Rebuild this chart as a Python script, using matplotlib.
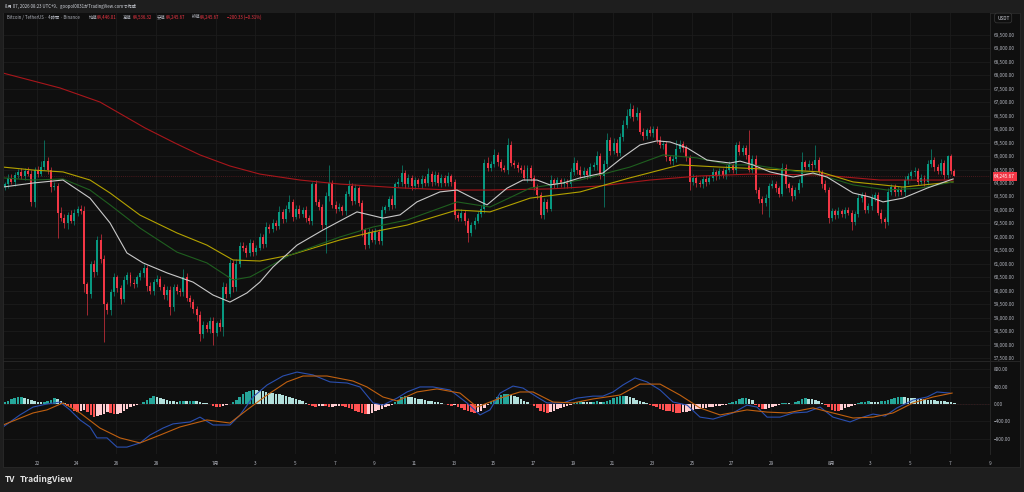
import matplotlib
matplotlib.use('Agg')
import matplotlib.pyplot as plt
import numpy as np
from matplotlib.patches import Rectangle

plt.rcParams['font.family'] = ['Noto Sans CJK JP', 'DejaVu Sans']
plt.rcParams['axes.unicode_minus'] = True

# ---- data (4h candles, BTC/USDT) ----
first_open = 63600
last_open = 64446.01
last_day = 46.21          # days after Jun 22 00:00 of the last candle

closes = [
    63850, 63950, 64200, 64050, 64300,
    64400, 64250, 64450, 64350,
    63300, 64500, 64350, 64600,
    64800, 64500, 63850, 63900,
    62900, 62700, 62500, 62800, 62600, 62900, 63050,
    62950, 60250, 59900,
    61000, 60700, 61900, 61200,
    59500, 59300, 59950, 60500, 60100, 59700, 60400, 60600, 60300,
    60250, 60500, 60650, 60850, 60200, 60000, 60350, 60450, 60150, 59850, 60050, 59400, 60150, 60000, 59950,
    60500, 59750, 59600, 59350, 59100, 58400, 58750, 58600, 58900, 58450, 58800, 58650,
    60150, 59900, 61050, 60150, 61000, 61650,
    61600, 61400, 61780, 61450, 61600, 62000, 61750, 62370, 62300, 62520, 62400, 62930, 62650, 63050, 63300,
    62750, 63050, 62850, 63000, 62700, 62600,
    63950, 63300, 63100, 62450, 63500, 64000, 63200, 63050, 63100, 62950, 63600, 63900, 63350, 63800, 63250,
    62250, 61700, 62200, 61900, 62200, 61850,
    63000, 63100, 63400, 63200, 63950, 64050, 64370, 63950, 64200, 63900, 64100, 63950, 64150, 64000, 64350,
    64050, 64300, 64000, 64200, 64000, 64250, 64050,
    62800, 62700, 62900, 62600, 62150, 62450, 62600, 62850, 63050,
    64750, 64550, 64700, 65050, 64780, 64550, 64500, 65400, 64750, 64650, 64550, 64500, 64200, 64550, 64200,
    63850, 63550, 62800, 63300, 63050, 64100, 63950, 64100, 63950, 64050, 63950,
    64400, 64750, 64500, 64300, 64450, 64300, 64600, 64650, 65000, 64250, 64700, 65600, 65200, 65500, 65100,
    65700, 66150, 66500, 66750, 66450, 66600, 65900, 65750, 65950, 65850, 66000, 65600, 65400, 65450, 64950,
    64800, 64900, 65250, 65450, 65300, 64950,
    64050, 64200, 64000, 63950, 64150, 64050, 64200, 64400, 64250, 64450, 64300, 64500, 64650, 64500, 65400,
    65150, 65300, 65050, 64500, 64900,
    63750, 63400, 63250, 63450, 63900, 63950, 63800, 63600, 64550, 63950, 63800, 63500, 63750, 64000, 64770,
    64600, 64700, 64650, 64850, 64400, 63950, 63750, 62700, 62950, 62800, 62950, 62850, 63000, 62900,
    62550, 62850, 63450, 63550, 63000, 63150, 63450, 63550, 62900, 62650, 62550, 63650, 63850, 63650, 63750,
    63650, 64100, 64250, 64400, 64450, 64050, 64200, 64050, 64700, 64850, 64600, 64450, 64750, 64300, 65000,
    64450, 64245.67,
]

up_wick = [
    100, 80, 150, 120, 100,
    120, 150, 100, 130,
    150, 100, 120, 200,
    800, 150, 100, 150,
    100, 200, 150, 120, 200, 150, 100,
    150, 200, 100,
    100, 150, 120, 200,
    150, 100, 120, 150, 100, 120, 150, 100, 120,
    150, 100, 120, 150, 100, 120, 100, 150, 120, 100, 130, 150, 100, 120, 100,
    300, 150, 100, 120, 100, 150, 120, 100, 150, 120, 100, 150,
    200, 150, 150, 100, 200, 150,
    150, 100, 150, 100, 120, 150, 100, 200, 100, 150, 100, 200, 120, 150, 250,
    100, 150, 120, 100, 150, 100,
    100, 150, 100, 120, 150, 650, 100, 120, 150, 100, 120, 200, 100, 150, 100,
    120, 100, 150, 100, 120, 100,
    150, 100, 120, 150, 100, 150, 300, 100, 150, 100, 120, 100, 150, 100, 200,
    100, 150, 100, 120, 100, 150, 100,
    100, 120, 150, 100, 120, 100, 150, 100, 120,
    150, 200, 100, 200, 100, 120, 100, 250, 150, 100, 120, 100, 150, 100, 120,
    100, 100, 120, 150, 100, 200, 100, 120, 100, 150, 100,
    150, 200, 100, 120, 150, 100, 150, 120, 200, 100, 150, 250, 100, 150, 120,
    150, 200, 250, 200, 150, 200, 120, 150, 100, 150, 120, 100, 150, 100, 120,
    100, 150, 350, 150, 120, 100,
    100, 150, 100, 120, 100, 150, 100, 150, 100, 120, 100, 150, 150, 100, 120,
    150, 100, 120, 900, 150,
    150, 100, 120, 150, 100, 150, 120, 100, 200, 150, 100, 120, 100, 150, 380,
    100, 150, 100, 550, 120, 100, 150, 100, 120, 100, 150, 100, 120, 100,
    100, 120, 150, 100, 120, 100, 150, 120, 100, 120, 100, 150, 120, 100, 150,
    100, 150, 120, 100, 150, 100, 120, 100, 150, 400, 120, 100, 150, 100, 50,
    86, 90.31,
]

down_wick = [
    150, 100, 120, 100, 150,
    100, 120, 150, 100,
    150, 200, 120, 100,
    100, 150, 200, 120,
    950, 120, 150, 200, 100, 150, 120,
    100, 300, 800,
    150, 200, 120, 150,
    1400, 150, 200, 120, 150, 200, 120, 150, 100,
    150, 120, 100, 150, 200, 120, 150, 100, 120, 150, 200, 300, 150, 120, 150,
    150, 120, 200, 150, 200, 250, 150, 120, 150, 450, 120, 150,
    300, 150, 120, 200, 150, 100,
    120, 150, 100, 150, 120, 100, 150, 120, 150, 100, 150, 120, 150, 100, 120,
    150, 100, 150, 120, 150, 120,
    150, 120, 100, 150, 1050, 150, 120, 150, 100, 150, 120, 100, 150, 120, 100,
    200, 150, 120, 100, 150, 120,
    150, 120, 100, 150, 120, 100, 150, 120, 100, 150, 120, 100, 150, 120, 100,
    150, 120, 100, 150, 120, 100, 150,
    150, 120, 100, 150, 350, 120, 150, 100, 120,
    150, 100, 120, 100, 150, 120, 100, 150, 120, 100, 150, 120, 100, 150, 120,
    100, 150, 100, 150, 120, 100, 150, 120, 100, 150, 120,
    120, 100, 150, 120, 100, 150, 120, 100, 150, 120, 1150, 100, 150, 120, 100,
    100, 150, 120, 100, 150, 120, 100, 150, 120, 100, 150, 120, 100, 150, 120,
    100, 150, 120, 100, 150, 120,
    300, 120, 150, 100, 120, 150, 100, 120, 150, 100, 120, 150, 100, 120, 150,
    100, 120, 150, 100, 120,
    120, 150, 400, 120, 700, 100, 150, 120, 100, 150, 120, 150, 100, 120, 150,
    100, 120, 150, 100, 120, 150, 100, 180, 120, 150, 100, 120, 150, 100,
    290, 120, 100, 150, 120, 100, 150, 120, 100, 120, 200, 120, 100, 150, 120,
    100, 150, 120, 100, 150, 120, 100, 150, 120, 100, 150, 120, 100, 150, 120,
    100, 0,
]

macd_hist = [
    20, 50, 80, 110, 130, 150, 150,
    140, 120, 90, 60,
    50, 40, 40,
    70, 100, 130,
    110, 70, 30,
    -50, -100, -150, -180, -160, -140, -190, -260, -300, -280, -250,
    -220, -180, -200, -240, -230, -200, -150, -110, -80, -50, -20, -5,
    40, 90, 140, 175, 160, 140, 120, 100, 80, 60, 50,
    60, 70, 60, 70, 80, 60, 40, 30, 20, 10,
    -40, -60, -70, -50, -30, -10,
    40, 100, 160, 220, 270, 300, 320,
    310, 300, 290, 280, 260, 250, 240, 220, 200, 180, 160, 140, 110, 90, 60, 30,
    -20, -40, -60, -50, -40, -50, -70, -60, -50, -40, -50, -70, -90, -120, -150,
    -180, -210, -230, -220, -200, -170, -140, -110, -80, -50, -20,
    40, 100, 150, 175, 170, 150, 140, 120, 110, 90, 80, 70, 50, 40, 30,
    -10, -30, -40, -30, -60, -100, -140, -170, -190, -200, -180, -150, -100,
    -30, 40, 100, 160, 200, 225, 230, 215, 190, 160, 120, 80, 40, 10,
    -40, -100, -150, -190, -200, -180, -150, -120, -90, -60, -40, -20,
    30, 50, 60, 55, 50, 45, 55, 60, 50,
    50, 70, 100, 130, 160, 180, 190, 185, 160, 130, 100, 70, 40, 15,
    -20, -50, -80, -110, -130, -150, -170, -185, -195, -200, -190, -180,
    -160, -140, -120, -110, -100, -90, -70, -60, -50, -40, -30, -15,
    20, 50, 80, 110, 130, 140, 120, 90,
    -30, -80, -115, -110, -90, -70, -40, -20,
    15, 25, 20, 10, 40, 80, 110, 130, 125, 110, 90, 60, 30,
    -30, -80, -130, -150, -150, -130, -100, -70, -40, -20,
    20, 40, 55, 60, 50, 45, 40,
    60, 80, 100, 120, 135, 150, 155, 150, 145, 140, 130, 125, 120, 110, 100,
    95, 90, 80, 70, 60, 50, 40, 20,
]

# moving averages, read at sample points (days after Jun 22)
ema200_days = [-1.7, -0.35, 1.16, 3.17, 5.44, 6.95, 8.21, 9.72, 11.23, 13.25, 15.26,
               18.29, 20.81, 22.82, 25.84, 28.36, 30.88, 33.40, 35.92, 39.45, 42.47, 46.15]
ema200 = [68070, 67810, 67520, 67000, 66040, 65480, 65040, 64630, 64330, 64110, 63960,
          63820, 63740, 63740, 63780, 63890, 64110, 64260, 64330, 64300, 64110, 64110]

ema100_days = [-1.71, -0.20, 1.31, 2.67, 3.68, 5.19, 7.05, 8.56, 9.87, 11.23, 12.75, 15.26, 16.93,
               18.64, 21.16, 22.82, 24.84, 27.36, 29.87, 32.39, 34.41, 37.78, 39.45, 41.11, 43.63, 46.15]
ema100 = [64590, 64480, 64410, 64110, 63630, 62810, 62150, 61700, 61150, 61110, 61330, 61890, 62190,
          62440, 63000, 62930, 63440, 63670, 64190, 64670, 64590, 64480, 64410, 64040, 63850, 64040]

ema50_days = [-1.71, -0.20, 1.31, 2.67, 3.68, 5.19, 7.05, 8.56, 9.87, 10.73, 12.75, 15.26, 16.93, 18.64,
              21.16, 22.82, 24.84, 27.36, 29.87, 31.54, 33.25, 34.91, 36.07, 37.78, 39.45, 41.11,
              42.82, 44.48, 46.15]
ema50 = [64190, 64110, 64150, 63740, 63190, 62330, 61440, 61040, 60410, 60520, 61330, 62000, 62370, 62630,
         63300, 63110, 63810, 64110, 64590, 65040, 64930, 64670, 64670, 64480, 64300, 63930,
         63740, 63810, 64040]

ema20_days = [-1.71, -0.20, 1.31, 2.67, 3.68, 4.53, 5.34, 6.55, 7.86, 8.87, 9.72, 10.58, 11.23, 11.89,
              13.10, 14.41, 16.12, 17.43, 18.29, 19.14, 20.30, 21.16, 21.96, 22.67, 23.68, 24.48,
              25.19, 25.84, 26.50, 27.36, 28.51, 29.52, 30.38, 31.23, 31.89, 32.75, 33.75, 34.91,
              35.42, 36.07, 36.93, 38.09, 39.09, 39.80, 41.11, 41.96, 42.62, 43.63, 44.84, 46.15]
ema20 = [63850, 64000, 64110, 63440, 62520, 61410, 61040, 60670, 60330, 59850, 59590, 59930, 60330, 60890,
         61700, 62260, 62930, 62700, 62820, 63300, 63670, 63740, 63440, 63190, 63810, 64110,
         64110, 63930, 64000, 64190, 64370, 64960, 65410, 65560, 65520, 65300, 64850, 64740,
         64810, 64670, 64410, 64220, 64370, 64220, 63630, 63480, 63300, 63440, 63810, 64150]

macd_days = [-1.71, -0.86, -0.20, 0.50, 1.16, 1.66, 2.17, 2.67, 3.02, 3.53, 4.03, 4.53, 5.19, 5.69,
             6.35, 6.85, 7.71, 8.21, 8.87, 9.72, 10.23, 10.88, 11.59, 12.39, 13.10, 13.90, 14.76,
             15.62, 16.27, 16.93, 17.43, 18.14, 18.64, 19.29, 19.95, 20.81, 21.66, 22.32, 22.82,
             23.33, 23.98, 24.48, 25.19, 25.69, 26.50, 27.20, 28.01, 28.51, 29.02, 29.52, 30.13,
             30.73, 31.39, 32.04, 32.75, 33.40, 34.06, 35.06, 35.77, 36.27, 36.78, 37.43, 38.09,
             38.79, 39.45, 40.10, 40.96, 41.46, 42.12, 42.72, 43.32, 44.13, 44.84, 45.34, 45.99]
macd_line = [-525, -250, -70, 0, 45, -135, -365, -525, -775, -775, -985, -985, -890, -710,
             -550, -455, -410, -300, -480, -480, -250, 160, 435, 640, 730, 665, 505,
             480, 390, 25, -25, 135, 275, 390, 390, 320, 25, -250, -135,
             250, 410, 365, 160, 25, 25, 135, 180, 180, 275, 435, 595,
             505, 320, 45, -25, -300, -345, -205, -25, -70, -300, -300, -205,
             -185, -70, -300, -410, -320, -230, -275, -90, 90, 160, 275, 250]

signal_days = [-1.71, -0.20, 0.50, 1.31, 2.17, 3.17, 4.18, 5.19, 6.20, 7.20, 8.56, 9.72, 10.58, 11.59,
               12.59, 13.40, 14.61, 15.92, 16.62, 17.43, 18.14, 19.14, 20.15, 21.31, 22.17, 23.33,
               24.33, 24.99, 25.99, 27.00, 28.01, 29.37, 30.38, 31.39, 32.39, 33.40, 34.41, 35.77,
               36.78, 37.78, 39.09, 40.10, 41.11, 42.12, 43.12, 44.13, 45.14, 46.10]
signal_line = [-480, -205, -135, 25, -205, -550, -775, -890, -710, -525, -365, -435, -135, 205,
               505, 640, 640, 525, 390, 160, 70, 275, 345, 250, -70, 135,
               275, 275, 45, 25, 115, 205, 455, 455, 205, -90, -250, -135,
               -185, -205, -90, -205, -320, -300, -205, 25, 160, 250]

tick_days = [0, 2, 4, 6, 9, 11, 13, 15, 17, 19, 21, 23, 25, 27, 29, 31, 33, 35, 37, 40, 42, 44, 46, 48]
tick_labels = ['22', '24', '26', '28', '7月', '3', '5', '7', '9', '11', '13', '15', '17', '19',
               '21', '23', '25', '27', '29', '8月', '3', '5', '7', '9']

price_ticks = np.arange(57500, 69501, 500)
macd_ticks = [800, 400, 0, -400, -800]
macd_tick_labels = ['800.00', '400.00', '0.00', '\u2212400.00', '\u2212800.00']

# ---- styling ----
UP, DOWN = '#089981', '#f23645'
BG, PANEL, GRID, TXT = '#1e1e1e', '#0f0f0f', '#1c1c1c', '#b2b5be'
W, H = 1024, 492

closes = np.array(closes, dtype=float)
n = len(closes)
assert len(up_wick) == n and len(down_wick) == n and len(macd_hist) == n
days = last_day - (n - 1 - np.arange(n)) / 6.0
opens = np.r_[first_open, closes[:-1]]
opens[-1] = last_open
highs = np.maximum(opens, closes) + np.array(up_wick)
lows = np.minimum(opens, closes) - np.array(down_wick)
ccol = np.where(closes >= opens, UP, DOWN)

fig = plt.figure(figsize=(W / 100, H / 100), dpi=100, facecolor=BG)
fig.patches.append(Rectangle((3 / W, 1 - 467 / H), 1017 / W, 454 / H, transform=fig.transFigure,
                             facecolor=PANEL, edgecolor='#2a2a2a', lw=0.6, zorder=-5))

x0, x1 = 4 / W, 990 / W
ax = fig.add_axes([x0, 1 - 360 / H, x1 - x0, (360 - 13) / H])
axm = fig.add_axes([x0, 1 - 454 / H, x1 - x0, (454 - 362) / H], sharex=ax)

for a in (ax, axm):
    a.set_zorder(2)
    a.set_facecolor(PANEL)
    for s in a.spines.values():
        s.set_visible(False)
    a.spines['right'].set_visible(True)
    a.spines['right'].set_color('#2a2a2a')
    a.spines['right'].set_linewidth(0.6)
    a.yaxis.tick_right()
    a.tick_params(axis='both', length=0, labelsize=3.4, labelcolor=TXT, pad=3)
    a.set_xticks(tick_days)
    a.grid(True, color=GRID, lw=0.6)
    a.set_axisbelow(True)

ax.set_xlim((4 - 37) / 19.85, (990 - 37) / 19.85)

# price pane
ax.vlines(days, lows, highs, colors=ccol, lw=0.45, zorder=2)
ax.bar(days, np.maximum(np.abs(closes - opens), 25), width=0.1,
       bottom=np.minimum(opens, closes), color=ccol, lw=0, zorder=3)
ax.plot(ema200_days, ema200, color='#a8161b', lw=0.8, zorder=4)
ax.plot(ema100_days, ema100, color='#b3a200', lw=0.8, zorder=4)
ax.plot(ema50_days, ema50, color='#1f5f1f', lw=0.8, zorder=4)
ax.plot(ema20_days, ema20, color='#c9c9c9', lw=0.8, zorder=5)
ax.axhline(closes[-1], color=DOWN, lw=0.5, ls=(0, (1, 2)), alpha=0.5, zorder=1)
ax.set_ylim(64000 - (360 - 183) * 37.04, 64000 + (183 - 13) * 37.04)
ax.set_yticks(price_ticks)
ax.set_yticklabels([f'{v:,.2f}' for v in price_ticks])
ax.tick_params(axis='x', labelbottom=False)
ax.annotate(f'{closes[-1]:,.2f}', xy=(1, closes[-1]), xycoords=('axes fraction', 'data'),
            xytext=(3, 0), textcoords='offset points', ha='left', va='center',
            fontsize=3.4, color='white',
            bbox=dict(boxstyle='square,pad=0.35', fc=DOWN, ec='none'), annotation_clip=False)

# MACD pane
hist = np.array(macd_hist, dtype=float)
prev = np.r_[hist[0], hist[:-1]]
hcol = np.where(hist >= 0, np.where(hist >= prev, '#26a69a', '#b2dfdb'),
                np.where(hist <= prev, '#ff5252', '#ffcdd2'))
axm.bar(days, hist, width=0.13, color=hcol, lw=0, zorder=2)
axm.plot(macd_days, macd_line, color='#2a4fb0', lw=0.8, zorder=3)
axm.plot(signal_days, signal_line, color='#c0600f', lw=0.8, zorder=3)
axm.axhline(0, color='#3a1a1d', lw=0.5, ls=(0, (2, 2)), zorder=1)
axm.set_ylim((404 - 454) * 22.86, (404 - 362) * 22.86)
axm.set_yticks(macd_ticks)
axm.set_yticklabels(macd_tick_labels)
axm.set_xticklabels(tick_labels)
axm.tick_params(axis='x', pad=5)

fig.add_artist(plt.Line2D([3 / W, 1020 / W], [1 - 361 / H] * 2, color='#2a2a2a', lw=0.6))

# header / legend
fig.text(5 / W, 1 - 6 / H, '8月 07, 2026 08:23 UTC+9、goopol0031がTradingView.comで作成',
         fontsize=3.1, color='#d1d4dc', va='center')
legend = [(7, 'Bitcoin / TetherUS · 4時間 · Binance', TXT), (89, '始値', TXT), (97, '64,446.01', DOWN),
          (123, '高値', TXT), (133, '64,536.32', DOWN), (157, '安値', TXT), (166, '64,245.67', DOWN),
          (192, '終値', TXT), (200, '64,245.67', DOWN), (227, '\u2212200.33 (\u22120.31%)', DOWN)]
for xp, s, c in legend:
    fig.text(xp / W, 1 - 17 / H, s, fontsize=3.1, color=c, va='center')
fig.text(997 / W, 1 - 18 / H, 'USDT', fontsize=3.4, color='#d1d4dc', va='center',
         bbox=dict(boxstyle='round,pad=0.5', fc=PANEL, ec='#3a3a3a', lw=0.5))

fig.text(5 / W, 1 - 480 / H, 'TV', fontsize=6, color='#e8e8e8', weight='bold', va='center')
fig.text(20 / W, 1 - 480 / H, 'TradingView', fontsize=6.2, color='#e0e0e0', weight='bold', va='center')

fig.savefig('out.png', dpi=100, facecolor=BG)
